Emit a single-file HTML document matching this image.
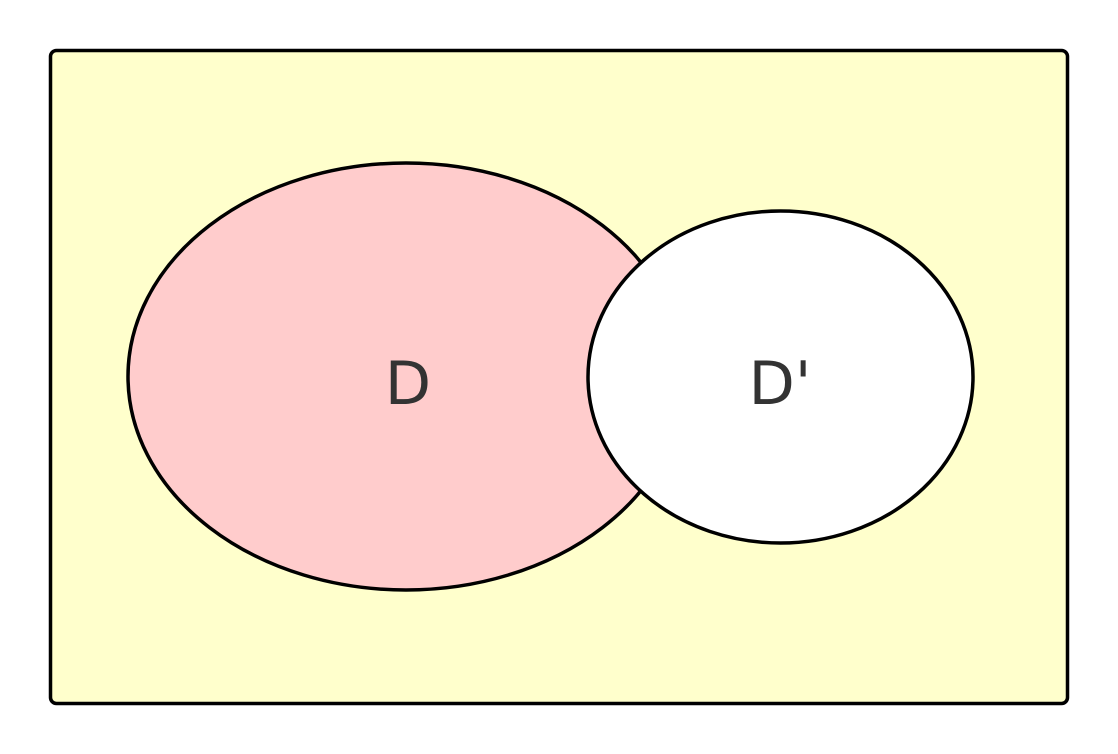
<!DOCTYPE html>
<html><head><meta charset="utf-8"><style>
html,body{margin:0;padding:0;background:#fff;}
svg{display:block;}
text{font-family:"DejaVu Sans","Liberation Sans",sans-serif;fill:#333;}
</style></head><body>
<svg width="1118" height="754" viewBox="0 0 1118 754">
<rect x="50.5" y="50.5" width="1017" height="653" rx="6" fill="#ffffcc" stroke="#000" stroke-width="3.5"/>
<ellipse cx="406" cy="376.5" rx="278" ry="213.5" fill="#ffcccc" stroke="#000" stroke-width="3.5"/>
<ellipse cx="780.5" cy="377" rx="192.5" ry="166" fill="#ffffff" stroke="#000" stroke-width="3.5"/>
<text x="408" y="404" font-size="60" text-anchor="middle">D</text>
<text x="780" y="404" font-size="60" text-anchor="middle">D'</text>
</svg>
</body></html>
